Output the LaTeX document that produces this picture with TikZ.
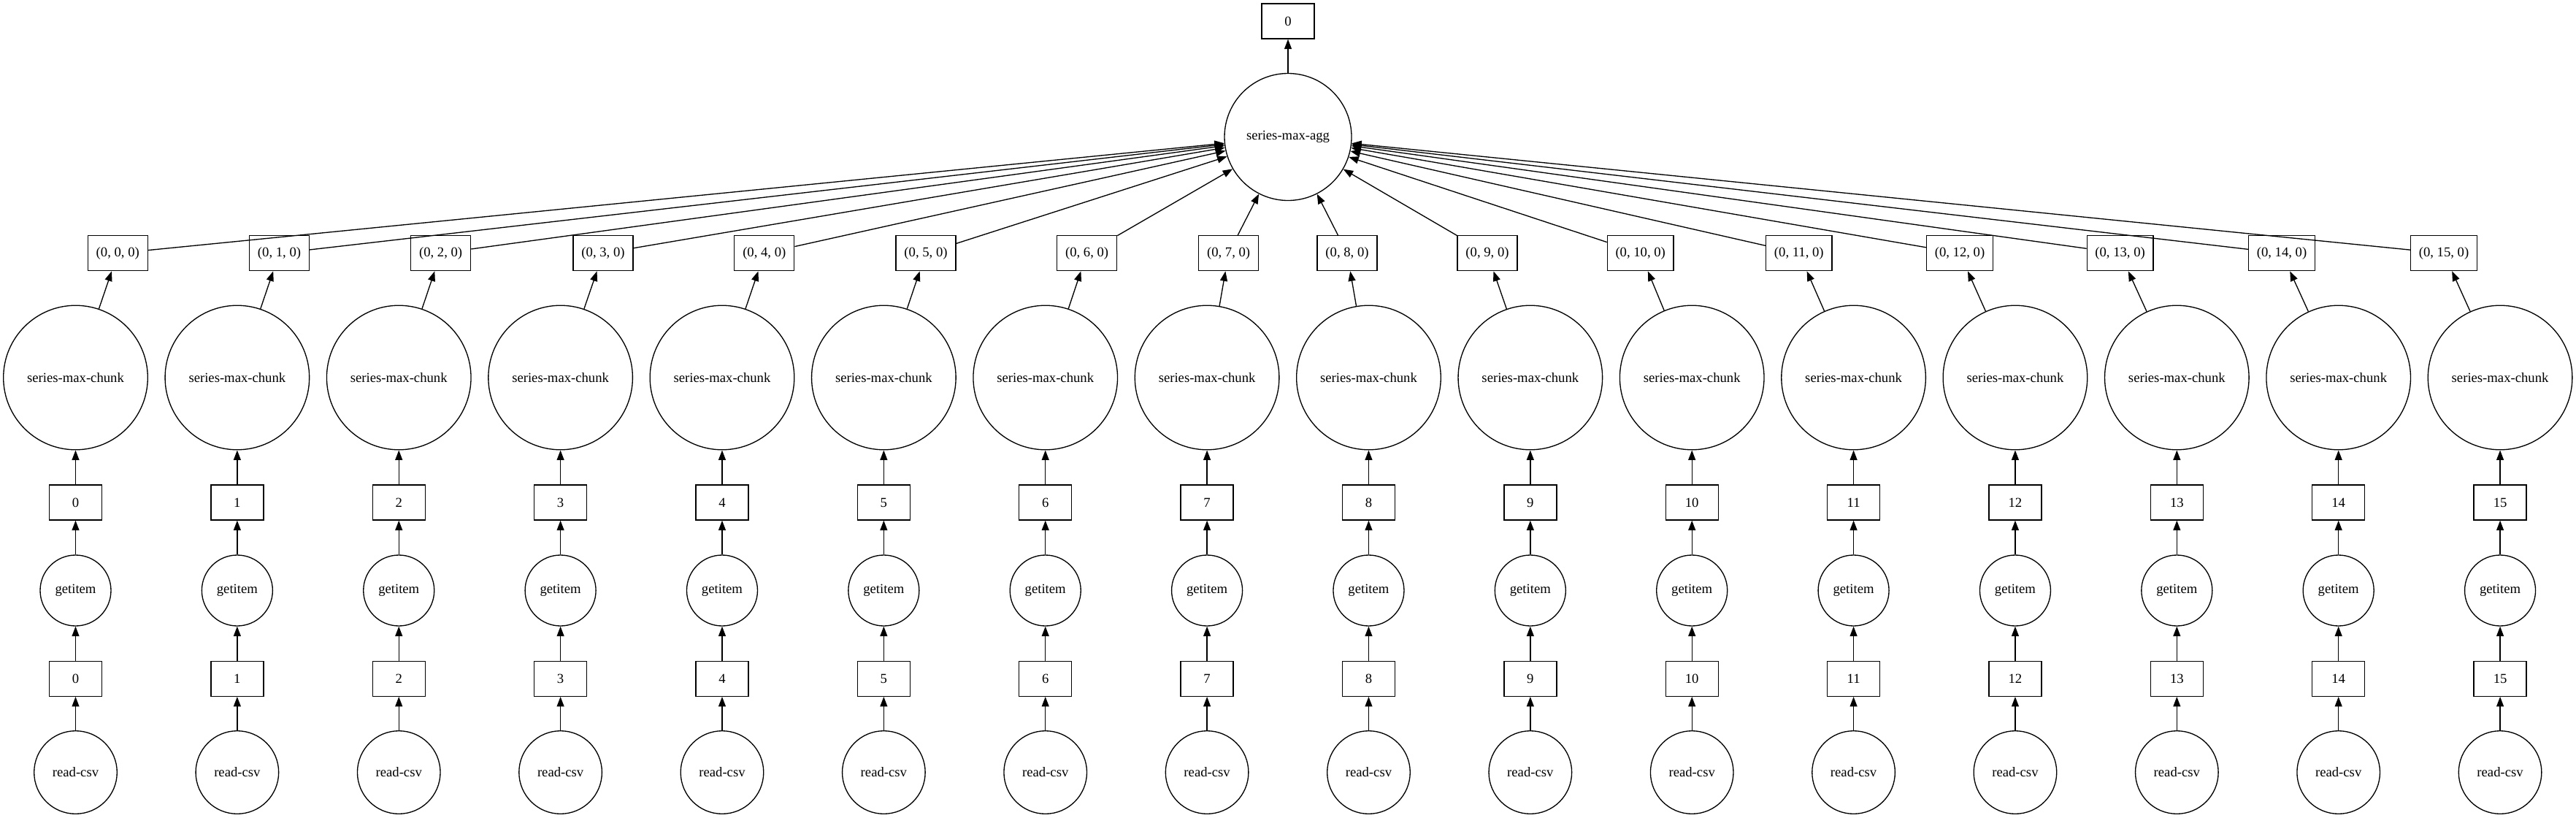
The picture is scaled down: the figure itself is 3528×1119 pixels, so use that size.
\documentclass[tikz,border=0pt]{standalone}
\usepackage{fontspec}
\setmainfont{Liberation Serif}
\usetikzlibrary{arrows.meta}
\begin{document}
\begin{tikzpicture}[x=1pt,y=-1pt, line width=1.33pt,
  font=\fontsize{18.67}{22}\selectfont,
  boxnode/.style={draw, rectangle, minimum width=72pt, minimum height=48pt, inner sep=0pt},
  circnode/.style={draw, circle, inner sep=0pt},
  arr/.style={-{Triangle[length=13.5pt,width=10pt]}}]
\useasboundingbox (0,0) rectangle (3528,1119);
\node[boxnode] (top) at (1764,29) {0};
\node[circnode, minimum size=174pt] (agg) at (1764,187.5) {series-max-agg};
\draw[arr] (agg) -- (top);
\foreach \i/\bx in {0/161.3, 1/382.5, 2/603.6, 3/826, 4/1046.8, 5/1268, 6/1488.6, 7/1682.6, 8/1845, 9/2037, 10/2246.7, 11/2463.8, 12/2684, 13/2903.6, 14/3125, 15/3347}{
  \pgfmathsetmacro\cx{103.5+221.37*\i}
  \pgfmathsetmacro\tw{\i<10 ? 82 : 90.6}
  \node[circnode, minimum size=113.6pt] (rc\i) at (\cx,1057.5) {read-csv};
  \node[boxnode] (ka\i) at (\cx,929.3) {\i};
  \node[circnode, minimum size=97pt] (gi\i) at (\cx,808.5) {getitem};
  \node[boxnode] (kb\i) at (\cx,688) {\i};
  \node[circnode, minimum size=197.6pt] (ch\i) at (\cx,517) {series-max-chunk};
  \node[boxnode, minimum width=\tw pt] (tp\i) at (\bx,346.7) {(0, \i, 0)};
  \draw[arr] (rc\i) -- (ka\i);
  \draw[arr] (ka\i) -- (gi\i);
  \draw[arr] (gi\i) -- (kb\i);
  \draw[arr] (kb\i) -- (ch\i);
  \draw[arr] (ch\i) -- (tp\i);
  \draw[arr] (tp\i) -- (agg);
}
\end{tikzpicture}
\end{document}
